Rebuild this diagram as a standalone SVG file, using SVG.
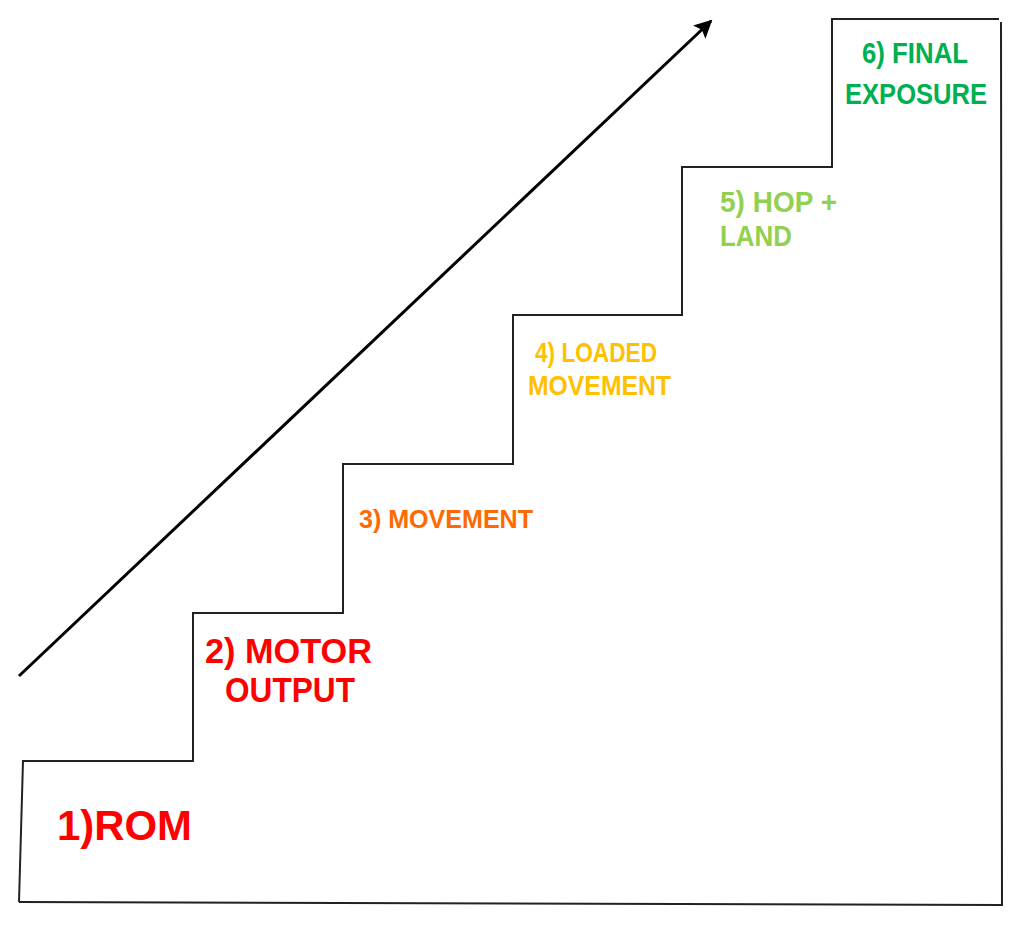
<svg xmlns="http://www.w3.org/2000/svg" width="1024" height="925" viewBox="0 0 1024 925">
<style>
.lbl{font-family:"Liberation Sans",Arial,sans-serif;font-weight:bold}
.edge{fill:none;stroke:#222;stroke-width:2}
</style>
<defs>
<marker id="ah" viewBox="0 0 10 10" refX="9" refY="5" markerWidth="7" markerHeight="6" orient="auto" markerUnits="strokeWidth">
<path d="M0,0 L10,5 L0,10 L2,5 z" fill="#000"/>
</marker>
</defs>
<rect width="1024" height="925" fill="#fff"/>
<g id="stairs">
<path class="edge" d="M19,902 L23,761 L193,761 L193,613 L343,613 L343,464 L513,464 L513,315 L682,315 L682,167 L832,167 L832,19 L999,19"/>
<path class="edge" d="M1001,22 L1002,905 L19,902"/>
</g>
<g id="connectors">
<line x1="19" y1="676" x2="711" y2="21" stroke="#000" stroke-width="3" marker-end="url(#ah)"/>
</g>
<g id="step1"><text class="lbl" x="57" y="840" font-size="43" fill="#ff0000" textLength="135" lengthAdjust="spacingAndGlyphs">1)ROM</text></g>
<g id="step2">
<text class="lbl" x="205" y="663" font-size="35" fill="#ff0000" textLength="167" lengthAdjust="spacingAndGlyphs">2) MOTOR</text>
<text class="lbl" x="225" y="702" font-size="35" fill="#ff0000" textLength="130" lengthAdjust="spacingAndGlyphs">OUTPUT</text>
</g>
<g id="step3"><text class="lbl" x="359" y="528" font-size="26" fill="#ff6a00" textLength="174" lengthAdjust="spacingAndGlyphs">3) MOVEMENT</text></g>
<g id="step4">
<text class="lbl" x="535" y="362" font-size="27" fill="#ffc000" textLength="122" lengthAdjust="spacingAndGlyphs">4) LOADED</text>
<text class="lbl" x="528" y="395" font-size="27" fill="#ffc000" textLength="143" lengthAdjust="spacingAndGlyphs">MOVEMENT</text>
</g>
<g id="step5">
<text class="lbl" x="720" y="212" font-size="29" fill="#92d050" textLength="117" lengthAdjust="spacingAndGlyphs">5) HOP +</text>
<text class="lbl" x="720" y="246" font-size="29" fill="#92d050" textLength="72" lengthAdjust="spacingAndGlyphs">LAND</text>
</g>
<g id="step6">
<text class="lbl" x="862" y="63" font-size="29" fill="#00b050" textLength="106" lengthAdjust="spacingAndGlyphs">6) FINAL</text>
<text class="lbl" x="845" y="104" font-size="29" fill="#00b050" textLength="142" lengthAdjust="spacingAndGlyphs">EXPOSURE</text>
</g>
</svg>
